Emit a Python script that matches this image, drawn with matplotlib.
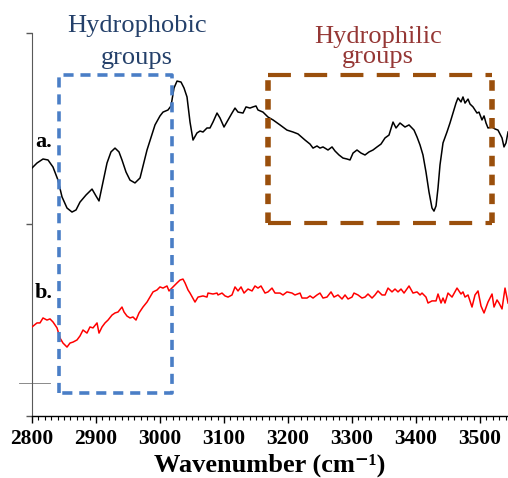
import matplotlib
matplotlib.use("Agg")
import matplotlib.pyplot as plt
import matplotlib.ticker as ticker

plt.rcParams["font.family"] = ["Liberation Serif", "DejaVu Serif"]

# spectrum a (black)
wn_a = [2800, 2807.8, 2817.2, 2825, 2832.8, 2840.6, 2846.9, 2854.7, 2862.5, 2868.8,
        2875, 2884.4, 2893.8, 2900, 2904.7, 2910.9, 2917.2, 2923.4, 2929.7, 2935.9,
        2940.6, 2946.9, 2953.1, 2960.9, 2968.8, 2979.7, 2992.2, 3000, 3004.7, 3012.5,
        3017.2, 3021.9, 3026.6, 3032.8, 3037.5, 3042.2, 3046.9, 3051.6, 3057.8, 3062.5,
        3067.2, 3073.4, 3078.1, 3082.8, 3089.1, 3093.8, 3100, 3106.3, 3112.5, 3117.2,
        3121.9, 3129.7, 3134.4, 3140.6, 3145.3, 3150, 3153.1, 3160.9, 3168.8, 3176.6,
        3187.5, 3198.4, 3207.8, 3215.6, 3226.6, 3234.4, 3239.1, 3245.3, 3250, 3254.7,
        3262.5, 3268.8, 3273.4, 3279.7, 3285.9, 3292.2, 3296.9, 3301.6, 3307.8, 3314.1,
        3320.3, 3326.6, 3332.8, 3339.1, 3345.3, 3351.6, 3357.8, 3364.1, 3368.8, 3375,
        3382.8, 3389.1, 3393.8, 3396.9, 3401.6, 3406.3, 3410.9, 3415.6, 3420.3, 3425,
        3428.1, 3431.3, 3434.4, 3437.5, 3442.2, 3448.4, 3453.1, 3457.8, 3462.5, 3465.6,
        3470.3, 3473.4, 3476.6, 3481.3, 3484.4, 3489.1, 3495.3, 3498.4, 3503.1, 3506.3,
        3509.4, 3512.5, 3518.8, 3523.4, 3528.1, 3534.4, 3537.5, 3540.6, 3543.8]
abs_a = [1.295, 1.321, 1.342, 1.337, 1.300, 1.232, 1.144, 1.086, 1.065, 1.076,
         1.117, 1.154, 1.185, 1.149, 1.123, 1.222, 1.321, 1.379, 1.399, 1.379,
         1.337, 1.274, 1.232, 1.217, 1.243, 1.389, 1.520, 1.567, 1.587, 1.598,
         1.619, 1.713, 1.749, 1.744, 1.713, 1.666, 1.535, 1.441, 1.478, 1.488,
         1.483, 1.504, 1.504, 1.535, 1.582, 1.556, 1.509, 1.546, 1.582, 1.608,
         1.587, 1.582, 1.614, 1.608, 1.614, 1.619, 1.598, 1.587, 1.561, 1.546,
         1.520, 1.493, 1.483, 1.473, 1.441, 1.420, 1.399, 1.410, 1.399, 1.405,
         1.389, 1.405, 1.384, 1.363, 1.347, 1.342, 1.337, 1.373, 1.389, 1.373,
         1.363, 1.379, 1.389, 1.405, 1.420, 1.452, 1.467, 1.535, 1.504, 1.530,
         1.509, 1.520, 1.504, 1.493, 1.457, 1.415, 1.363, 1.274, 1.170, 1.086,
         1.070, 1.097, 1.191, 1.311, 1.426, 1.483, 1.530, 1.582, 1.634, 1.661,
         1.640, 1.666, 1.634, 1.655, 1.629, 1.614, 1.582, 1.587, 1.546, 1.567,
         1.530, 1.504, 1.509, 1.499, 1.493, 1.452, 1.405, 1.426, 1.483]

# spectrum b (red)
wn_b = [2800, 2807.8, 2812.5, 2817.2, 2823.4, 2828.1, 2832.8, 2839.1, 2843.8, 2848.4,
        2854.7, 2859.4, 2864.1, 2870.3, 2875, 2879.7, 2885.9, 2890.6, 2895.3, 2901.6,
        2904.7, 2909.4, 2914.1, 2918.8, 2925, 2929.7, 2934.4, 2940.6, 2943.8, 2948.4,
        2953.1, 2957.8, 2962.5, 2967.2, 2973.4, 2979.7, 2984.4, 2989.1, 2995.3, 3000,
        3004.7, 3010.9, 3014.1, 3020.3, 3026.6, 3031.3, 3035.9, 3039.1, 3043.8, 3046.9,
        3054.7, 3059.4, 3067.2, 3073.4, 3075, 3082.8, 3089.1, 3090.6, 3096.9, 3101.6,
        3106.3, 3112.5, 3117.2, 3121.9, 3126.6, 3131.3, 3137.5, 3143.8, 3148.4, 3153.1,
        3157.8, 3164.1, 3168.8, 3175, 3179.7, 3187.5, 3192.2, 3198.4, 3206.3, 3210.9,
        3218.8, 3221.9, 3229.7, 3234.4, 3239.1, 3245.3, 3250, 3254.7, 3260.9, 3267.2,
        3271.9, 3278.1, 3284.4, 3289.1, 3293.8, 3300, 3303.1, 3309.4, 3315.6, 3320.3,
        3325, 3331.3, 3335.9, 3340.6, 3346.9, 3351.6, 3356.3, 3362.5, 3367.2, 3371.9,
        3376.6, 3381.3, 3389.1, 3395.3, 3401.6, 3406.3, 3409.4, 3415.6, 3418.8, 3425,
        3431.3, 3434.4, 3439.1, 3442.2, 3445.3, 3450, 3456.3, 3464.1, 3470.3, 3473.4,
        3476.6, 3481.3, 3487.5, 3492.2, 3496.9, 3501.6, 3506.3, 3512.5, 3518.8, 3521.9,
        3526.6, 3529.7, 3534.4, 3539.1, 3543.8]
abs_b = [0.465, 0.486, 0.486, 0.512, 0.501, 0.507, 0.491, 0.460, 0.407, 0.381,
         0.360, 0.381, 0.386, 0.397, 0.418, 0.449, 0.433, 0.465, 0.460, 0.486,
         0.433, 0.465, 0.486, 0.501, 0.527, 0.538, 0.543, 0.569, 0.543, 0.522,
         0.512, 0.517, 0.501, 0.538, 0.569, 0.595, 0.621, 0.648, 0.658, 0.674,
         0.668, 0.679, 0.653, 0.674, 0.695, 0.710, 0.715, 0.695, 0.658, 0.642,
         0.595, 0.621, 0.627, 0.621, 0.642, 0.637, 0.642, 0.632, 0.642, 0.627,
         0.621, 0.632, 0.674, 0.653, 0.674, 0.642, 0.663, 0.653, 0.679, 0.668,
         0.679, 0.642, 0.648, 0.668, 0.642, 0.642, 0.632, 0.648, 0.642, 0.632,
         0.642, 0.616, 0.616, 0.627, 0.616, 0.632, 0.642, 0.616, 0.621, 0.648,
         0.621, 0.632, 0.611, 0.632, 0.611, 0.621, 0.642, 0.632, 0.616, 0.621,
         0.637, 0.616, 0.632, 0.653, 0.632, 0.632, 0.668, 0.648, 0.663, 0.648,
         0.663, 0.642, 0.679, 0.642, 0.648, 0.632, 0.642, 0.621, 0.590, 0.601,
         0.601, 0.637, 0.590, 0.616, 0.590, 0.642, 0.621, 0.668, 0.637, 0.648,
         0.621, 0.632, 0.569, 0.632, 0.653, 0.574, 0.538, 0.595, 0.637, 0.569,
         0.606, 0.590, 0.559, 0.668, 0.590]

# highlighted regions (wavenumber span, value span)
phobic_x = [2842.2, 3018.8]
phobic_y = [0.120, 1.781]
philic_x = [3168.8, 3518.8]
philic_y = [1.008, 1.781]

# short reference stroke left of the axis
ref_x = [2779.7, 2828.1]
ref_y = [0.172, 0.172]

x_ticks = [2800, 2900, 3000, 3100, 3200, 3300, 3400, 3500]

BLUE = "#4A7EC6"
BROWN = "#9A4F0C"

fig = plt.figure(figsize=(5.08, 4.78), dpi=100)
ax = fig.add_axes([32 / 508, 62 / 478, 476 / 508, 383 / 478])

ax.plot(wn_a, abs_a, color="black", lw=1.1, zorder=3)
ax.plot(wn_b, abs_b, color="red", lw=1.1, zorder=3)

# hydrophobic box
x0, x1 = phobic_x
y0, y1 = phobic_y
ax.plot([x0, x0, x1, x1, x0], [y0, y1, y1, y0, y0], color=BLUE, lw=2.6,
        ls=(0, (2.8, 1.9)), zorder=4, solid_capstyle="butt")

# hydrophilic box: long dashes on top/bottom, short on the sides
x0, x1 = philic_x
y0, y1 = philic_y
for xs, ys in (([x0, x1], [y1, y1]), ([x0, x1], [y0, y0])):
    ax.plot(xs, ys, color=BROWN, lw=3.0, ls=(0, (5.5, 3.2)), zorder=4)
for xs, ys in (([x0, x0], [y0, y1]), ([x1, x1], [y0, y1])):
    ax.plot(xs, ys, color=BROWN, lw=4.0, ls=(0, (1.9, 1.5)), zorder=4)

ax.plot(ref_x, ref_y, color="#777777", lw=0.6, clip_on=False)

ax.text(2804.7, 1.405, "a.", fontsize=16, fontweight="bold", ha="left", va="baseline")
ax.text(2804.7, 0.616, "b.", fontsize=16, fontweight="bold", ha="left", va="baseline")

ax.text(2964, 2.005, "Hydrophobic", fontsize=19, color="#24406A", ha="center",
        va="baseline", clip_on=False)
ax.text(2964, 1.840, "groups", fontsize=19, color="#24406A", ha="center",
        va="baseline", clip_on=False)
ax.text(3340.6, 1.948, "Hydrophilic", fontsize=19, color="#953735", ha="center",
        va="baseline", clip_on=False)
ax.text(3340.6, 1.843, "groups", fontsize=19, color="#953735", ha="center",
        va="baseline", clip_on=False)

ax.set_xlim(2800, 3543.75)
ax.set_ylim(0, 2)
ax.set_xticks(x_ticks)
ax.xaxis.set_minor_locator(ticker.MultipleLocator(10))
ax.set_yticks([0, 1, 2])
ax.set_yticklabels([])
ax.tick_params(axis="x", which="major", direction="out", length=5, width=1,
               labelsize=15.5, pad=4)
ax.tick_params(axis="x", which="minor", direction="out", length=3, width=0.8)
ax.tick_params(axis="y", which="major", direction="out", length=4, width=1,
               color="#595959")
for lbl in ax.get_xticklabels():
    lbl.set_fontweight("bold")

ax.spines["top"].set_visible(False)
ax.spines["right"].set_visible(False)
ax.spines["left"].set_color("#595959")
ax.spines["bottom"].set_linewidth(1.0)

ax.set_xlabel("Wavenumber (cm\u207b\u00b9)", fontsize=19, fontweight="bold", labelpad=4)

plt.savefig("out.png", dpi=100)
